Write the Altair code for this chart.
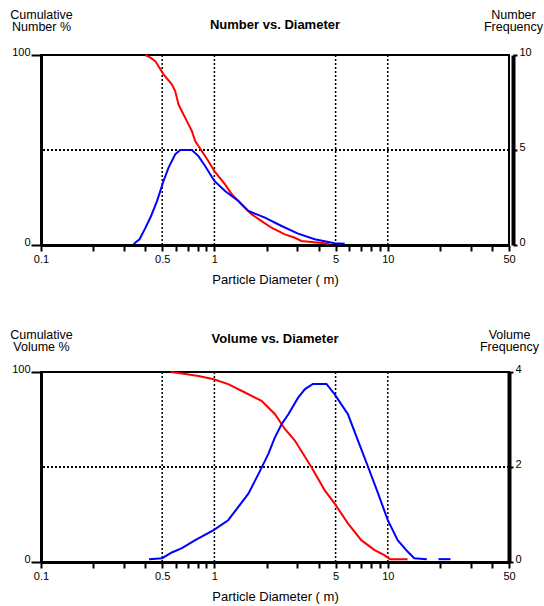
import altair as alt
import pandas as pd

FONT = "Liberation Sans"

# Shared x axis: particle diameter (log scale)
X_DOMAIN = [0.1, 50]
X_TICKS = [0.1, 0.2, 0.3, 0.4, 0.5, 0.6, 0.7, 0.8, 0.9,
           1, 2, 3, 4, 5, 6, 7, 8, 9, 10, 20, 30, 40, 50]
X_LABELED = [0.1, 0.5, 1, 5, 10, 50]
GRID_D = [0.5, 1, 5, 10]

# Number distribution
num_cum_d = [0.40, 0.43, 0.456, 0.509, 0.568, 0.594, 0.621, 0.648, 0.709, 0.741, 0.775,
             0.845, 0.922, 1.0, 1.152, 1.26, 1.374, 1.50, 1.638, 1.87, 2.135, 2.547,
             2.91, 3.175, 3.63, 4.33, 4.6]
num_cum_v = [100, 98.5, 96.8, 89.8, 84.6, 81, 74, 70.5, 63.5, 60, 54.7,
             49.5, 44.2, 38.9, 31.9, 26.7, 23.2, 19.6, 16.2, 12.6, 9.1, 5.6,
             3.8, 2.1, 1.6, 0.9, 0.6]
num_freq_d = [0.342, 0.37, 0.40, 0.43, 0.466, 0.509, 0.544, 0.594, 0.635, 0.741, 0.809,
              0.884, 1.0, 1.152, 1.374, 1.57, 1.956, 2.44, 3.04, 3.79, 4.94, 5.64]
num_freq_f = [0.05, 0.3, 0.9, 1.5, 2.3, 3.37, 4.07, 4.77, 5.0, 5.0, 4.68,
              4.16, 3.37, 2.84, 2.32, 1.79, 1.44, 1.0, 0.6, 0.3, 0.09, 0.06]
num_freq_seg = [0] * len(num_freq_d)

# Volume distribution
vol_cum_d = [0.56, 0.65, 0.809, 0.99, 1.2, 1.5, 1.87, 2.23, 2.55, 2.91, 3.63, 4.33,
             4.94, 5.89, 7.03, 8.39, 9.5, 10.3, 13.0]
vol_cum_v = [100, 99.2, 97.9, 96.2, 93.6, 89.2, 84.8, 77.9, 70, 63.9, 49.9, 37.7,
             30.7, 20.3, 11.5, 6.3, 3.7, 1.5, 1.5]
vol_freq_d = [0.42, 0.5, 0.568, 0.65, 0.775, 0.99, 1.2, 1.374, 1.57, 1.8, 2.05, 2.23,
              2.44, 2.67, 3.04, 3.33, 3.70, 4.43, 4.94, 5.89, 6.74, 7.7, 8.8, 10.0,
              11.4, 13.0, 14.2, 16.8, 19.6, 23.0]
vol_freq_f = [0.06, 0.08, 0.2, 0.29, 0.46, 0.67, 0.88, 1.16, 1.44, 1.86, 2.28, 2.62,
              2.9, 3.11, 3.46, 3.64, 3.75, 3.75, 3.53, 3.11, 2.55, 2.0, 1.44, 0.88,
              0.46, 0.22, 0.08, 0.06, 0.06, 0.06]
vol_freq_seg = [0] * 28 + [1, 1]

W, H = 468, 190


def x_enc(field):
    return alt.X(
        f"{field}:Q",
        scale=alt.Scale(type="log", domain=X_DOMAIN, nice=False),
        axis=alt.Axis(
            values=X_TICKS,
            format="~g",
            labelExpr="indexof(%s, datum.value) >= 0 ? datum.label : ''" % str(X_LABELED),
            labelOverlap=False, labelFlush=False, labelBound=False,
            labelFontSize=11, labelPadding=2, labelColor="black",
            tickSize=6, tickWidth=2, tickColor="black",
            domainColor="black", domainWidth=3,
            grid=False,
            title="Particle Diameter ( m)", titleFontSize=13,
            titleFontWeight="normal", titlePadding=9, titleColor="black",
        ),
    )


def panel(title, left_title, right_title, cum_d, cum_v, freq_d, freq_f, seg,
          fmax, fticks, right_offset, head_y, title_offset):
    cum_df = pd.DataFrame({"d": cum_d, "v": cum_v})
    freq_df = pd.DataFrame({"d": freq_d, "f": freq_f, "seg": seg})
    grid_df = pd.DataFrame({"d": GRID_D})

    left_axis = alt.Axis(
        values=[0, 100], grid=False,
        labelFontSize=11, labelPadding=1, labelBaseline="alphabetic", labelColor="black",
        tickSize=10, tickWidth=2, tickColor="black",
        domainColor="black", domainWidth=3,
        title=left_title, titleAngle=0, titleAlign="center", titleBaseline="top",
        titleX=0, titleY=head_y, titleFontSize=12.5, titleFontWeight="normal",
        titleLineHeight=12.5, titleColor="black",
    )
    right_axis = alt.Axis(
        orient="right", values=fticks, grid=False, offset=right_offset,
        labelFontSize=11, labelPadding=2, labelBaseline="alphabetic", labelColor="black",
        tickSize=4, tickWidth=2, tickColor="black",
        domainColor="black", domainWidth=4,
        title=right_title, titleAngle=0, titleAlign="center", titleBaseline="top",
        titleX=0, titleY=head_y, titleFontSize=12.5, titleFontWeight="normal",
        titleLineHeight=12.5, titleColor="black",
    )
    left_scale = alt.Scale(domain=[0, 100], nice=False)

    vgrid = alt.Chart(grid_df).mark_rule(
        color="black", strokeDash=[2, 2], strokeWidth=1.5
    ).encode(x=x_enc("d"))
    hgrid = alt.Chart(grid_df).mark_rule(
        color="black", strokeDash=[2, 2], strokeWidth=1.5
    ).encode(y=alt.datum(50, scale=left_scale, axis=left_axis))
    red = alt.Chart(cum_df).mark_line(color="#ff0000", strokeWidth=2).encode(
        x=x_enc("d"),
        y=alt.Y("v:Q", scale=left_scale, axis=left_axis),
    )
    blue = alt.Chart(freq_df).mark_line(color="#0000ff", strokeWidth=2).encode(
        x=x_enc("d"),
        y=alt.Y("f:Q", scale=alt.Scale(domain=[0, fmax], nice=False), axis=right_axis),
        detail="seg:N",
    )
    left_layer = alt.layer(vgrid, hgrid, red)
    return alt.layer(left_layer, blue).resolve_scale(y="independent").properties(
        width=W, height=H,
        title=alt.TitleParams(
            title, fontSize=13, fontWeight="bold", anchor="middle", frame="group",
            baseline="middle", offset=title_offset, color="black",
        ),
    )


top = panel("Number  vs. Diameter", ["Cumulative", "Number %"], ["Number", "Frequency"],
            num_cum_d, num_cum_v, num_freq_d, num_freq_f, num_freq_seg, 10, [0, 5, 10], 4,
            -47, -30)
bottom = panel("Volume  vs. Diameter", ["Cumulative", "Volume %"], ["Volume", "Frequency"],
               vol_cum_d, vol_cum_v, vol_freq_d, vol_freq_f, vol_freq_seg, 4, [0, 2, 4], 0,
               -44, -24)

chart = alt.vconcat(top, bottom, spacing=40).properties(
    padding={"left": 8, "top": 7, "right": 0, "bottom": 0},
    background="white",
).configure(font=FONT).configure_view(stroke="black", strokeWidth=2)

chart.save("out.html", embed_options={"renderer": "svg", "actions": False})
